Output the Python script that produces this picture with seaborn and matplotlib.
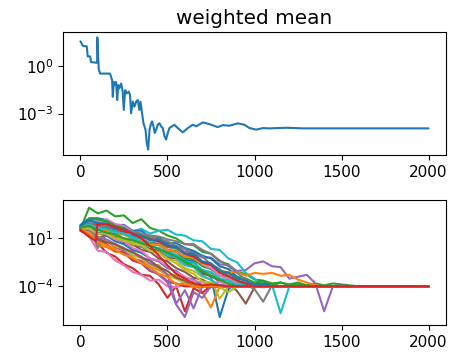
import numpy as np
import pandas as pd
import matplotlib
matplotlib.use("Agg")
import matplotlib.pyplot as plt
import seaborn as sns

sns.set_style("ticks", {"text.color": "black", "xtick.color": "black",
                        "ytick.color": "black", "axes.edgecolor": "black",
                        "axes.labelcolor": "black"})
plt.rcParams['font.family'] = ['DejaVu Sans']

# ---------------- top panel: weighted mean (x, log10 value) ----------------
top_x = [0, 13, 17, 36, 42, 56, 61, 90, 96, 97, 105, 113, 170, 182, 186, 192, 199, 205,
         211, 218, 224, 234, 243, 249, 257, 266, 278, 285, 291, 301, 310, 320, 329, 339,
         345, 354, 362, 374, 381, 389, 397, 406, 412, 420, 427, 435, 444, 454, 464, 473,
         483, 492, 502, 511, 540, 559, 588, 617, 645, 665, 703, 741, 789, 818, 856, 904,
         942, 971, 1010, 1048, 1086, 1182, 1278, 1374, 1500, 1700, 2000]
top_log = [1.59, 1.32, 1.28, 1.28, 0.63, 0.63, 0.27, 0.23, 0.23, 1.84, -0.15, -0.46, -0.46,
           -0.88, -1.93, -0.99, -1.19, -0.99, -2.14, -1.19, -1.40, -1.09, -1.61, -2.77,
           -1.51, -1.72, -1.61, -1.82, -2.98, -2.24, -2.56, -2.24, -2.14, -2.77, -2.24,
           -2.98, -3.61, -4.03, -4.86, -5.28, -4.03, -3.61, -3.50, -3.82, -4.23, -4.03,
           -3.71, -3.61, -3.82, -3.92, -4.44, -4.65, -4.23, -3.92, -3.71, -3.92, -4.19,
           -3.92, -3.71, -3.81, -3.56, -3.67, -3.86, -3.73, -3.77, -3.62, -3.71, -3.92,
           -4.02, -3.92, -3.94, -3.90, -3.94, -3.94, -3.94, -3.94, -3.94]

# ---------------- bottom panel: individual runs (log10 values on a 50-step grid) ----
grid_x = [0, 50, 100, 150, 200, 250, 300, 350, 400, 450, 500, 550, 600, 650, 700, 750,
          800, 850, 900, 950, 1000, 1050, 1100, 1150, 1200, 1250, 1300, 1350, 1400, 1450,
          1500, 1550, 1600, 1650]
end_x = 2000
floor_log = -4.0

run00 = [2.2, 2.9, 2.5, 2.6, 1.8, 1.9, 1.3, 1.0, 0.5, 0.5, -0.3, -0.4, -1.2, -1.4, -2.5, -3.0, -7.2, -4.3, -3.6, -4.0, -4.0]
run01 = [2.1, 1.8, 0.9, 0.8, 0.0, -0.2, -0.8, -1.0, -1.7, -1.8, -2.8, -2.9, -3.7, -3.5, -4.6, -6.2, -4.0, -3.8, -4.0]
run02 = [2.0, 4.2, 3.6, 3.9, 3.3, 3.4, 2.6, 3.0, 2.1, 1.8, 1.3, 1.0, 0.4, 0.3, -0.4, -0.6, -1.4, -1.7, -2.5, -2.7, -3.3, -3.4, -3.7, -3.6, -3.8, -3.6, -3.9, -3.7, -3.9, -3.7, -3.8, -3.9, -4.0]
run03 = [1.8, 1.4, 0.5, -0.5, -0.9, -1.7, -2.1, -2.8, -2.9, -3.8, -5.2, -4.0, -6.6, -4.2, -4.7, -3.9, -4.0]
run04 = [2.0, 2.7, 2.8, 2.7, 2.1, 2.1, 1.5, 1.3, 1.1, 0.9, 0.3, 0.2, -0.4, -0.4, -1.0, -1.0, -1.7, -1.8, -2.4, -2.3, -1.6, -1.4, -1.9, -2.0, -3.2, -3.0, -2.8, -3.7, -6.6, -4.0, -3.9, -4.0]
run05 = [2.1, 2.0, 1.5, 1.9, 1.1, 1.0, 0.5, 0.3, -0.1, -0.3, -1.0, -1.1, -1.7, -1.9, -2.7, -2.9, -3.5, -3.7, -4.5, -5.8, -4.1, -4.0]
run06 = [1.9, 1.2, -0.3, -0.4, -1.3, -1.8, -2.5, -2.8, -3.4, -3.3, -4.0, -4.1, -3.8, -4.0]
run07 = [2.0, 1.6, 0.7, 1.3, 0.9, 0.7, 0.3, 0.1, -0.3, -0.4, -0.9, -0.9, -1.6, -1.6, -2.3, -2.6, -3.2, -3.4, -3.9, -3.8, -4.3, -5.6, -3.9, -4.0]
run08 = [2.0, 2.4, 1.9, 1.8, 1.2, 1.0, 0.6, 0.3, -0.3, -0.5, -1.2, -1.3, -2.1, -2.4, -3.0, -3.3, -5.3, -4.0, -3.9, -4.0]
run09 = [2.3, 2.8, 2.3, 2.6, 2.1, 2.1, 1.7, 2.0, 1.5, 1.8, 1.9, 1.4, 1.3, 0.8, 0.7, -0.1, -0.2, -1.1, -1.5, -2.6, -3.2, -4.0, -3.8, -6.8, -4.0]
run10 = [2.4, 3.1, 3.1, 2.9, 2.4, 2.4, 1.8, 1.8, 1.1, 1.1, 0.5, 0.5, 0.0, -0.3, -0.8, -1.1, -1.9, -2.2, -3.0, -3.2, -3.7, -3.8, -3.9, -4.0]
run11 = [1.9, 1.7, 0.3, 0.1, -0.4, -0.4, -1.2, -1.3, -1.9, -2.3, -2.8, -2.9, -3.6, -3.7, -4.0, -4.0]
run12 = [2.1, 2.7, 2.2, 2.1, 1.6, 1.5, 1.0, 0.9, 0.5, 0.4, -0.2, -0.3, -1.0, -1.2, -1.9, -2.2, -2.9, -3.0, -3.5, -3.6, -3.7, -3.9, -3.8, -4.0]
run13 = [1.8, 1.3, 0.9, 0.4, -0.3, -0.5, -1.3, -1.6, -2.4, -2.7, -3.5, -3.7, -4.0]
run14 = [2.0, 1.7, 0.8, 0.8, 0.1, -0.3, -1.1, -1.4, -2.3, -2.8, -3.6, -5.9, -7.2, -4.6, -5.2, -4.0, -4.1, -4.0]
run15 = [2.2, 1.8, 1.1, 1.3, 1.1, 0.6, 0.4, -0.2, -0.4, -1.1, -1.4, -2.1, -2.5, -3.1, -3.3, -3.8, -3.9, -4.0]
run16 = [2.1, 2.6, 2.7, 3.0, 2.5, 2.3, 1.7, 1.4, 0.8, 0.6, 0.1, -0.1, -0.7, -1.0, -1.7, -2.1, -2.9, -3.2, -3.6, -3.7, -4.0]
run17 = [2.0, 2.2, 0.0, 1.5, 1.8, 1.5, 1.5, 1.1, 1.2, 0.9, 0.7, 0.2, -0.1, -0.7, -0.9, -1.7, -2.2, -3.0, -3.4, -3.9, -4.0]
run18 = [1.9, 1.6, 1.2, 0.8, 0.2, -0.1, -0.8, -1.0, -1.8, -2.1, -2.9, -3.2, -3.7, -3.8, -4.0]
run19 = [2.2, 2.6, 2.5, 2.4, 1.9, 1.7, 1.1, 1.0, 0.4, 0.3, -0.4, -0.7, -1.3, -1.6, -2.3, -2.5, -3.2, -3.4, -3.8, -3.9, -4.0]
run20 = [2.1, 2.4, 1.6, 1.3, 0.7, 0.4, -0.2, -0.5, -1.1, -1.4, -2.1, -2.4, -3.1, -3.3, -3.9, -4.1, -3.9, -4.0]
run21 = [2.0, 2.5, 2.0, 1.8, 1.4, 1.4, 0.9, 0.8, 0.4, 0.3, -0.2, -0.4, -0.9, -1.0, -1.6, -1.8, -2.4, -2.5, -2.5, -2.9, -2.6, -2.7, -2.6, -2.9, -2.8, -3.3, -3.6, -3.9, -4.0]
run22 = [2.2, 3.0, 3.0, 2.8, 2.3, 2.1, 1.5, 1.5, 0.9, 0.7, 0.1, 0.0, -0.6, -0.8, -1.5, -1.7, -2.4, -2.6, -3.1, -3.2, -3.6, -3.5, -3.9, -3.6, -3.9, -3.8, -3.9, -4.0]
run23 = [2.0, 2.5, 2.4, 2.2, 2.0, 1.7, 1.6, 1.2, 0.9, 0.7, 0.2, 0.1, -0.6, -0.9, -1.5, -1.8, -2.6, -2.9, -3.4, -3.7, -4.0]
run24 = [1.9, 1.9, 1.1, 0.9, 0.4, 0.0, -0.5, -0.9, -1.6, -2.0, -2.8, -5.8, -4.4, -6.3, -4.0, -4.0]
run25 = [2.0, 1.2, 0.9, 0.6, 0.4, -0.1, -0.4, -1.0, -1.3, -2.0, -2.4, -3.1, -3.4, -4.0, -4.0]
run26 = [2.0, 2.3, 2.0, 1.4, 0.9, 0.7, 0.0, -0.3, -1.1, -1.3, -2.0, -2.5, -3.0, -3.4, -3.6, -3.8, -3.5, -3.9, -4.0]
run27 = [2.1, 2.6, 2.2, 2.3, 2.0, 1.9, 1.7, 1.5, 1.3, 1.2, 0.9, 0.7, 0.4, 0.4, -0.2, -0.6, -1.3, -1.9, -2.6, -3.3, -3.9, -4.1, -4.0]
run28 = [2.1, 2.0, 1.5, 1.5, 1.0, 0.8, 0.4, 0.3, -0.3, -0.5, -1.1, -1.6, -2.3, -2.7, -3.5, -3.6, -4.1, -4.6, -4.0]
run29 = [2.2, 2.4, 2.1, 2.0, 1.6, 1.5, 1.0, 0.6, 0.2, 0.0, -0.7, -1.0, -1.8, -2.0, -2.9, -3.3, -3.9, -4.0]
run30 = [2.3, 2.9, 2.6, 2.5, 2.0, 2.0, 1.5, 1.3, 0.8, 0.9, 0.3, 0.1, -0.6, -0.6, -1.4, -1.6, -2.4, -2.6, -3.2, -3.4, -3.9, -3.7, -4.0]
run31 = [2.0, 1.5, 0.6, 0.3, -0.2, -0.7, -1.0, -1.6, -2.0, -2.7, -3.0, -3.8, -3.7, -4.0]
run32 = [2.1, 2.3, 1.9, 1.6, 1.4, 1.0, 0.8, 0.5, 0.2, -0.1, -0.5, -0.9, -1.4, -1.9, -2.4, -2.9, -3.3, -3.7, -4.0]
run33_x = [0, 40, 90, 97, 150, 200, 250, 300, 350, 400, 450, 500, 550, 600, 650, 700, 750, 800, 850]
run33 = [1.9, 1.3, 0.7, 2.5, 2.5, 2.2, 1.9, 1.5, 1.0, 0.2, -0.8, -1.8, -2.7, -3.2, -3.7, -3.9, -3.8, -3.9, -4.0]

grid_runs = [run00, run01, run02, run03, run04, run05, run06, run07, run08, run09, run10,
             run11, run12, run13, run14, run15, run16, run17, run18, run19, run20, run21,
             run22, run23, run24, run25, run26, run27, run28, run29, run30, run31, run32]

rows = []
for i, vals in enumerate(grid_runs):
    xs = grid_x[:len(vals)] + [end_x]
    ls = list(vals) + [floor_log]
    for k, (xx, ll) in enumerate(zip(xs, ls)):
        rows.append((i, k, xx, 10.0 ** ll))
n_last = len(grid_runs)
for k, (xx, ll) in enumerate(zip(run33_x + [end_x], run33 + [floor_log])):
    rows.append((n_last, k, xx, 10.0 ** ll))
runs_df = pd.DataFrame(rows, columns=["run", "order", "x", "y"])

top_df = pd.DataFrame({"x": top_x, "y": 10.0 ** np.array(top_log)})

tab10 = sns.color_palette("tab10", 10)
palette = {i: tab10[i % 10] for i in range(n_last + 1)}

fig = plt.figure(figsize=(4.54, 3.56), dpi=100)
ax1 = fig.add_axes([0.1388, 0.5646, 0.8436, 0.3455])
ax2 = fig.add_axes([0.1388, 0.0871, 0.8436, 0.3497])

sns.lineplot(data=top_df, x="x", y="y", ax=ax1, color=tab10[0], linewidth=1.5,
             estimator=None, sort=False)
ax1.set_yscale("log")
ax1.set_xlim(-100, 2100)
ax1.set_ylim(10 ** -5.63, 10 ** 2.18)
ax1.set_yticks([1, 1e-3])
ax1.yaxis.set_minor_locator(matplotlib.ticker.NullLocator())
ax1.set_title("weighted mean", fontsize=14.4, color="black")
ax1.set_xlabel("")
ax1.set_ylabel("")

sns.lineplot(data=runs_df, x="x", y="y", hue="run", units="run", palette=palette,
             ax=ax2, linewidth=1.5, estimator=None, sort=False, legend=False)
ax2.set_yscale("log")
ax2.set_xlim(-100, 2100)
ax2.set_ylim(10 ** -8.03, 10 ** 4.95)
ax2.set_yticks([10, 1e-4])
ax2.yaxis.set_minor_locator(matplotlib.ticker.NullLocator())
ax2.set_xlabel("")
ax2.set_ylabel("")

for ax in (ax1, ax2):
    ax.set_xticks([0, 500, 1000, 1500, 2000])
    ax.tick_params(labelsize=11, colors="black")
    for s in ax.spines.values():
        s.set_visible(True)
        s.set_color("black")
        s.set_linewidth(0.8)

fig.savefig("out.png", dpi=100)
